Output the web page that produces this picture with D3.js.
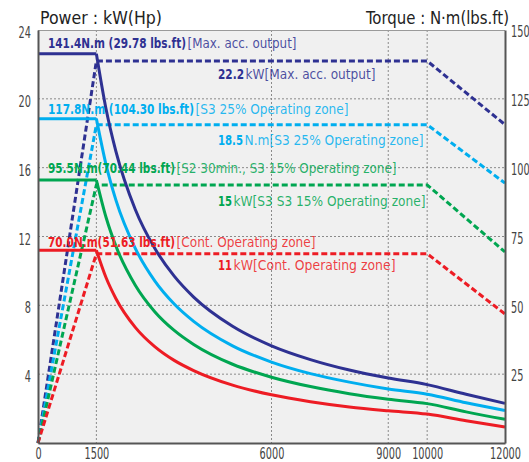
<!DOCTYPE html>
<html>
<head>
<meta charset="utf-8">
<script src="https://d3js.org/d3.v7.min.js"></script>
<style>
  body { margin: 0; background: #fff; }
  text { font-family: "DejaVu Sans Condensed", "DejaVu Sans", sans-serif; font-stretch: condensed; }
</style>
</head>
<body>
<div id="chart-area"></div>
<script>
// speed axis (rpm)
const rpmTicks = [0, 1500, 6000, 9000, 10000, 12000];
const powerTicks = [4, 8, 12, 16, 20, 24];
const torqueTicks = [25, 50, 75, 100, 125, 150];

// torque curves (solid, N·m)
const torqueRpm = [0, 1500, 1750, 2000, 2500, 3000, 3500, 4000, 5000, 6000, 7000, 8000, 9000, 10000, 11000, 12000];
const torqueMax  = [141.4, 141.4, 121.2, 106, 84.8, 70.7, 60.6, 53, 42.4, 35.3, 30.3, 26.5, 23.6, 21.2, 17.7, 14.4];
const torqueS325 = [117.8, 117.8, 101, 88.3, 70.7, 58.9, 50.5, 44.2, 35.3, 29.4, 25.2, 22.1, 19.6, 17.7, 14.6, 11.8];
const torqueS2   = [95.5, 95.5, 81.9, 71.6, 57.3, 47.7, 40.9, 35.8, 28.6, 23.9, 20.5, 17.9, 15.9, 14.3, 11.3, 8.6];
const torqueCont = [70, 70, 60, 52.5, 42, 35, 30, 26.3, 21, 17.5, 15, 13.1, 11.7, 10.5, 8.1, 5.8];

// power curves (dashed, kW)
const powerRpm = [0, 1500, 10000, 12000];
const powerMax  = [0, 22.2, 22.2, 18.5];
const powerS325 = [0, 18.5, 18.5, 15.1];
const powerS2   = [0, 15, 15, 11.1];
const powerCont = [0, 11, 11, 7.5];

const colors = ["#2e3192", "#00aeef", "#00a651", "#ed1c24"];

// label texts: [strong part, light part]
const torqueLabels = [
  ["141.4N.m (29.78 lbs.ft)", "[Max. acc. output]"],
  ["117.8N.m (104.30 lbs.ft)", "[S3 25% Operating zone]"],
  ["95.5N.m(70.44 lbs.ft)", "[S2 30min., S3 15% Operating zone]"],
  ["70.0N.m(51.63 lbs.ft)", "[Cont.  Operating zone]"]
];
const powerLabels = [
  ["22.2", "kW[Max. acc. output]"],
  ["18.5", "N.m[S3 25% Operating zone]"],
  ["15", "kW[S3 S3 15% Operating zone]"],
  ["11", "kW[Cont.  Operating zone]"]
];

const margin = { top: 30, right: 24, bottom: 19, left: 38 };
const width = 529 - margin.left - margin.right;
const height = 462 - margin.top - margin.bottom;

const svg = d3.select("#chart-area")
  .append("svg")
  .attr("width", 529)
  .attr("height", 462);

const g = svg.append("g")
  .attr("transform", `translate(${margin.left}, ${margin.top})`);

const x = d3.scaleLinear().domain([0, 12000]).range([0, width]);
const yP = d3.scaleLinear().domain([0, 24]).range([height, 0]);
const yT = d3.scaleLinear().domain([0, 150]).range([height, 0]);

// background
g.append("rect")
  .attr("width", width)
  .attr("height", height)
  .attr("fill", "#f0f0f0");

// grid
g.selectAll(".hgrid")
  .data(powerTicks.filter(d => d < 24))
  .enter().append("line")
  .attr("x1", 0).attr("x2", width)
  .attr("y1", d => yP(d)).attr("y2", d => yP(d))
  .attr("stroke", "#8a8a8a")
  .attr("stroke-width", 1)
  .attr("stroke-dasharray", "2,2");

g.selectAll(".vgrid")
  .data(rpmTicks.filter(d => d > 0 && d < 12000))
  .enter().append("line")
  .attr("x1", d => x(d)).attr("x2", d => x(d))
  .attr("y1", 0).attr("y2", height)
  .attr("stroke", "#8a8a8a")
  .attr("stroke-width", 1)
  .attr("stroke-dasharray", "2,2");

// top border
g.append("line")
  .attr("x1", 0).attr("x2", width)
  .attr("y1", 0.5).attr("y2", 0.5)
  .attr("stroke", "#9a9a9a");

// power (dashed)
const powerSeries = [powerMax, powerS325, powerS2, powerCont];
const powerLine = d3.line()
  .x(d => x(d[0]))
  .y(d => yP(d[1]));

powerSeries.forEach((s, i) => {
  g.append("path")
    .datum(powerRpm.map((r, j) => [r, s[j]]))
    .attr("d", powerLine)
    .attr("fill", "none")
    .attr("stroke", colors[i])
    .attr("stroke-width", 3)
    .attr("stroke-dasharray", "6,3");
});

// torque (solid): flat part + falling part
const torqueSeries = [torqueMax, torqueS325, torqueS2, torqueCont];
const flatLine = d3.line().x(d => x(d[0])).y(d => yT(d[1]));
const fallLine = d3.line().x(d => x(d[0])).y(d => yT(d[1])).curve(d3.curveMonotoneX);

torqueSeries.forEach((s, i) => {
  const pts = torqueRpm.map((r, j) => [r, s[j]]);
  const flat = pts.filter(d => d[0] <= 1500);
  const fall = pts.filter(d => d[0] >= 1500);
  [[flat, flatLine], [fall, fallLine]].forEach(([p, gen]) => {
    g.append("path")
      .datum(p)
      .attr("d", gen)
      .attr("fill", "none")
      .attr("stroke", colors[i])
      .attr("stroke-width", 3)
      .attr("stroke-linejoin", "round");
  });
});

// axes
const xAxis = d3.axisBottom(x).tickValues(rpmTicks).tickFormat(d3.format("d")).tickSize(0).tickPadding(5);
const yAxisL = d3.axisLeft(yP).tickValues(powerTicks).tickSize(0).tickPadding(7);
const yAxisR = d3.axisRight(yT).tickValues(torqueTicks).tickSize(0).tickPadding(6);

const axisStyle = sel => {
  sel.select(".domain").attr("stroke", "#555").attr("stroke-width", 2);
  sel.selectAll("text")
    .attr("fill", "#444")
    .style("font-size", "15px")
    .attr("textLength", function() { return this.textContent.length * 6.2; })
    .attr("lengthAdjust", "spacingAndGlyphs");
};

g.append("g").attr("transform", `translate(0,${height})`).call(xAxis).call(axisStyle);
g.append("g").call(yAxisL).call(axisStyle).selectAll("text").attr("dy", "0.5em");
g.append("g").attr("transform", `translate(${width},0)`).call(yAxisR).call(axisStyle)
  .selectAll("text").attr("dy", "0.45em");

// titles
svg.append("text")
  .attr("x", 40).attr("y", 24)
  .attr("fill", "#222")
  .style("font-size", "18px")
  .attr("textLength", 122)
  .attr("lengthAdjust", "spacingAndGlyphs")
  .text("Power : kW(Hp)");

svg.append("text")
  .attr("x", 366).attr("y", 24)
  .attr("fill", "#222")
  .style("font-size", "18px")
  .attr("textLength", 143)
  .attr("lengthAdjust", "spacingAndGlyphs")
  .text("Torque : N·m(lbs.ft)");

// labels: each part is its own text so its width can be fitted
const torqueLabelY = [48, 113.5, 173, 246.5];
const torqueLabelW = [[138, 109], [146, 153], [127, 220], [127, 139]];
const powerLabelY = [79, 145, 206, 270];
const powerLabelW = [[26, 130], [25, 179], [14, 192], [14, 162]];

function addLabel(parts, xPos, yPos, w, color) {
  svg.append("text")
    .attr("x", xPos).attr("y", yPos)
    .attr("fill", color)
    .attr("font-weight", "bold")
    .style("font-size", "14px")
    .attr("textLength", w[0])
    .attr("lengthAdjust", "spacingAndGlyphs")
    .text(parts[0]);
  svg.append("text")
    .attr("x", xPos + w[0] + 1.5).attr("y", yPos)
    .attr("fill", color)
    .attr("fill-opacity", 0.85)
    .style("font-size", "14px")
    .attr("textLength", w[1])
    .attr("lengthAdjust", "spacingAndGlyphs")
    .text(parts[1]);
}

torqueLabels.forEach((l, i) => addLabel(l, 48, torqueLabelY[i], torqueLabelW[i], colors[i]));
powerLabels.forEach((l, i) => addLabel(l, 218, powerLabelY[i], powerLabelW[i], colors[i]));
</script>
</body>
</html>
